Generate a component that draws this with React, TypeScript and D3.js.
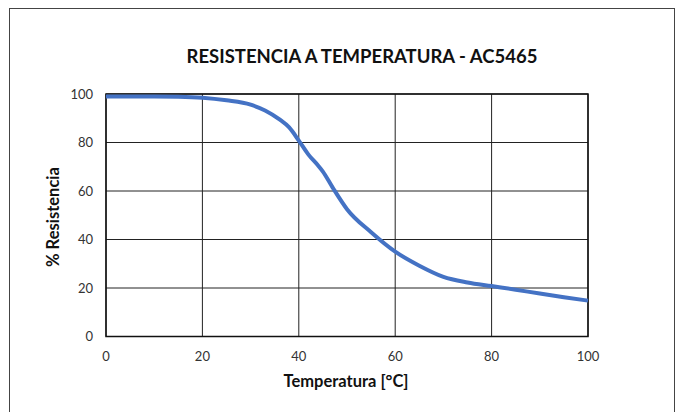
import React from "react";
import * as d3 from "d3";

const temps = [0, 5, 10, 15, 20, 25, 30, 33, 36, 38, 40, 42, 44, 45, 47, 50, 55, 60, 65, 70, 75, 80, 85, 90, 95, 100];
const resist = [99, 99, 99, 98.9, 98.5, 97.4, 95.6, 93.2, 89.5, 86.2, 80.8, 75, 70.5, 68, 61.5, 52.5, 43, 35, 29.2, 24.6, 22.3, 20.8, 19.3, 17.7, 16.2, 14.8];
const xTicks = [0, 20, 40, 60, 80, 100];
const yTicks = [0, 20, 40, 60, 80, 100];
const title = "RESISTENCIA A TEMPERATURA - AC5465";
const xLabel = "Temperatura [°C]";
const yLabel = "% Resistencia";

export default function App() {
  const W = 683, H = 412;
  const left = 106, right = 588, top = 94, bottom = 336.5;
  const x = d3.scaleLinear().domain([0, 100]).range([left, right]);
  const y = d3.scaleLinear().domain([0, 100]).range([bottom, top]);
  const line = d3.line<number>().x((_, i) => x(temps[i])).y((d) => y(d)).curve(d3.curveMonotoneX);
  const font = "Lato, 'Open Sans', sans-serif";
  return (
    <svg width={W} height={H} style={{ position: "absolute", left: 0, top: 0, background: "#fff" }} fontFamily={font}>
      <rect x={9.5} y={8.5} width={665} height={420} fill="#fff" stroke="#444" strokeWidth={1} />
      <text x={362} y={63} textAnchor="middle" fontSize={18.5} fontWeight={700} fill="#111">{title}</text>
      {xTicks.map((t) => (
        <line key={"gx" + t} x1={x(t)} x2={x(t)} y1={top} y2={bottom} stroke="#222" strokeWidth={1} />
      ))}
      {yTicks.map((t) => (
        <line key={"gy" + t} x1={left} x2={right} y1={y(t)} y2={y(t)} stroke="#222" strokeWidth={1} />
      ))}
      <rect x={left} y={top} width={right - left} height={bottom - top} fill="none" stroke="#111" strokeWidth={1.5} />
      <path d={line(resist) || ""} fill="none" stroke="#4472C4" strokeWidth={4} strokeLinejoin="round" strokeLinecap="butt" />
      {yTicks.map((t) => (
        <text key={"ty" + t} x={93} y={y(t) + 4.5} textAnchor="end" fontSize={13} fill="#333">{t}</text>
      ))}
      {xTicks.map((t) => (
        <text key={"tx" + t} x={x(t)} y={361} textAnchor="middle" fontSize={13} fill="#333">{t}</text>
      ))}
      <text x={346} y={387} textAnchor="middle" fontSize={16.5} fontWeight={700} fill="#111">{xLabel}</text>
      <text transform={`translate(58.5,217) rotate(-90)`} textAnchor="middle" fontSize={16.5} fontWeight={700} fill="#111">{yLabel}</text>
    </svg>
  );
}
